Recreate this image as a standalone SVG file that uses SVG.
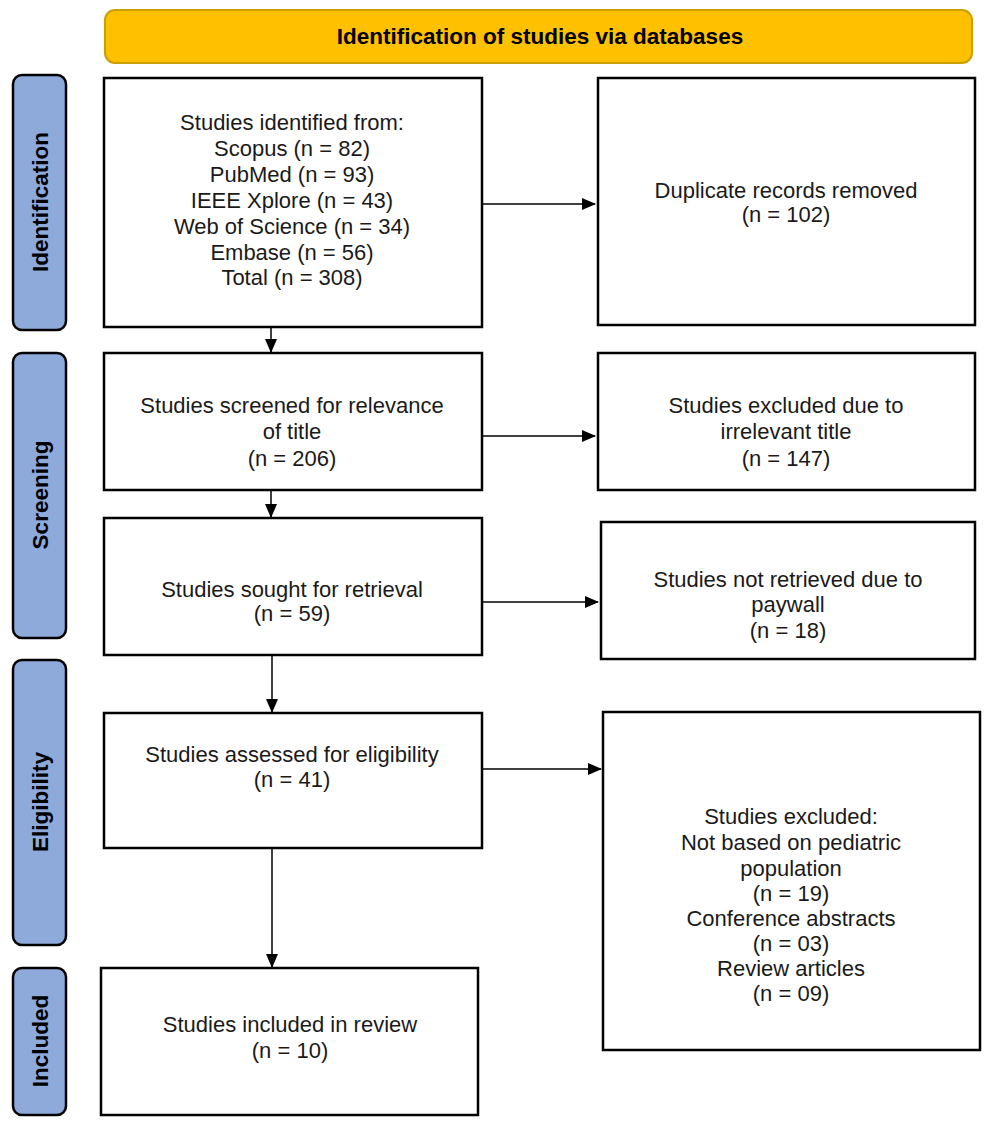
<svg xmlns="http://www.w3.org/2000/svg" width="986" height="1125" viewBox="0 0 986 1125">
<defs>
<marker id="ah" markerWidth="14" markerHeight="12" refX="13" refY="6" orient="auto" markerUnits="userSpaceOnUse"><path d="M0,0 L14,6 L0,12 z" fill="#000"/></marker>
</defs>
<style>
.box{fill:#fff;stroke:#000;stroke-width:2.5}
.side{fill:#8eaadb;stroke:#000;stroke-width:2.5}
.t{font-family:"Liberation Sans",Arial,sans-serif;font-size:22px;fill:#1a1a1a;text-anchor:middle}
.st{font-family:"Liberation Sans",Arial,sans-serif;font-size:22.5px;font-weight:bold;fill:#000;text-anchor:middle}
.c{stroke:#000;stroke-width:1.5;fill:none;marker-end:url(#ah)}
</style>
<rect width="986" height="1125" fill="#fff"/>
<g id="banner"><rect x="105" y="10" width="867" height="53" rx="10" fill="#ffc000" stroke="#c9a000" stroke-width="2"/><text class="st" x="540" y="44">Identification of studies via databases</text></g>
<g id="side-identification"><rect class="side" x="13" y="75" width="53" height="255" rx="9"/><text class="st" transform="translate(48,202) rotate(-90)">Identification</text></g>
<g id="side-screening"><rect class="side" x="13" y="353" width="53" height="285" rx="9"/><text class="st" transform="translate(48,495) rotate(-90)">Screening</text></g>
<g id="side-eligibility"><rect class="side" x="13" y="660" width="53" height="285" rx="9"/><text class="st" transform="translate(48,802) rotate(-90)">Eligibility</text></g>
<g id="side-included"><rect class="side" x="13" y="968" width="53" height="147" rx="9"/><text class="st" transform="translate(48,1041) rotate(-90)">Included</text></g>
<g id="identified"><rect class="box" x="104" y="78" width="378" height="249"/>
<text class="t" x="292" y="130">Studies identified from:</text><text class="t" x="292" y="156">Scopus (n = 82)</text><text class="t" x="292" y="182">PubMed (n = 93)</text><text class="t" x="292" y="208">IEEE Xplore (n = 43)</text><text class="t" x="292" y="234">Web of Science (n = 34)</text><text class="t" x="292" y="260">Embase (n = 56)</text><text class="t" x="292" y="285">Total (n = 308)</text></g>
<g id="duplicates"><rect class="box" x="598" y="78" width="377" height="247"/><text class="t" x="786" y="198">Duplicate records removed</text><text class="t" x="786" y="222">(n = 102)</text></g>
<g id="screened"><rect class="box" x="104" y="353" width="378" height="137"/><text class="t" x="292" y="413">Studies screened for relevance</text><text class="t" x="292" y="439">of title</text><text class="t" x="292" y="466">(n = 206)</text></g>
<g id="excluded-title"><rect class="box" x="598" y="353" width="377" height="137"/><text class="t" x="786" y="413">Studies excluded due to</text><text class="t" x="786" y="439">irrelevant title</text><text class="t" x="786" y="466">(n = 147)</text></g>
<g id="sought"><rect class="box" x="104" y="518" width="378" height="137"/><text class="t" x="292" y="597">Studies sought for retrieval</text><text class="t" x="292" y="621">(n = 59)</text></g>
<g id="not-retrieved"><rect class="box" x="601" y="522" width="374" height="137"/><text class="t" x="788" y="587">Studies not retrieved due to</text><text class="t" x="788" y="612">paywall</text><text class="t" x="788" y="638">(n = 18)</text></g>
<g id="assessed"><rect class="box" x="104" y="713" width="378" height="135"/><text class="t" x="292" y="762">Studies assessed for eligibility</text><text class="t" x="292" y="787">(n = 41)</text></g>
<g id="excluded"><rect class="box" x="603" y="712" width="377" height="338"/>
<text class="t" x="791" y="824">Studies excluded:</text><text class="t" x="791" y="850">Not based on pediatric</text><text class="t" x="791" y="876">population</text><text class="t" x="791" y="901">(n = 19)</text><text class="t" x="791" y="926">Conference abstracts</text><text class="t" x="791" y="951">(n = 03)</text><text class="t" x="791" y="976">Review articles</text><text class="t" x="791" y="1001">(n = 09)</text></g>
<g id="included"><rect class="box" x="101" y="968" width="377" height="147"/><text class="t" x="290" y="1032">Studies included in review</text><text class="t" x="290" y="1058">(n = 10)</text></g>
<g id="connectors">
<line class="c" x1="482" y1="204" x2="595" y2="204"/>
<line class="c" x1="482" y1="436" x2="595" y2="436"/>
<line class="c" x1="482" y1="602" x2="598" y2="602"/>
<line class="c" x1="482" y1="769" x2="601" y2="769"/>
<line class="c" x1="271" y1="327" x2="271" y2="352"/>
<line class="c" x1="271" y1="490" x2="271" y2="517"/>
<line class="c" x1="272" y1="655" x2="272" y2="712"/>
<line class="c" x1="272" y1="848" x2="272" y2="967"/>
</g>
</svg>
